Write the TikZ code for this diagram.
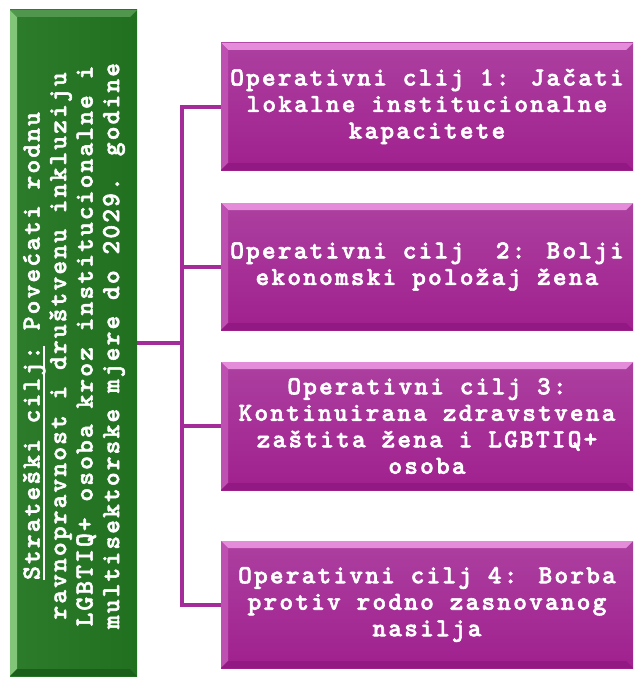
\documentclass[tikz,border=0pt]{standalone}
\usepackage{fontspec}
\newfontfamily\courfont{lmmonolt10-bold.otf}[LetterSpace=8.6, FakeBold=2.2]
\usetikzlibrary{calc}
\definecolor{pface}{RGB}{160,32,142}
\definecolor{pfacetop}{RGB}{172,64,160}
\definecolor{pbevtop}{RGB}{228,140,218}
\definecolor{pbevleft}{RGB}{190,80,178}
\definecolor{pbevbot}{RGB}{146,24,132}
\definecolor{gface}{RGB}{32,112,32}
\definecolor{gfaceleft}{RGB}{44,124,44}
\definecolor{gbevleft}{RGB}{130,196,120}
\definecolor{gbevtop}{RGB}{80,150,76}
\definecolor{gbevbot}{RGB}{26,96,26}
\definecolor{conn}{RGB}{164,44,154}
\newcommand\myul[1]{\setbox0\hbox{#1}\rlap{\rule[-5pt]{\wd0}{1.6pt}}\box0\relax}
\tikzset{
  boxtext/.style={text=white, font=\courfont\fontsize{26}{26.5}\selectfont, align=center, inner sep=0pt},
  purplebox/.style={boxtext, minimum width=412pt, minimum height=127pt,
    top color=pfacetop, bottom color=pface,
    path picture={
      \fill[pbevtop] (path picture bounding box.north west) -- (path picture bounding box.north east)
        -- ([xshift=-7pt,yshift=-7pt]path picture bounding box.north east) -- ([xshift=7pt,yshift=-7pt]path picture bounding box.north west) -- cycle;
      \fill[pbevleft] (path picture bounding box.north west) -- ([xshift=7pt,yshift=-7pt]path picture bounding box.north west)
        -- ([xshift=7pt,yshift=7pt]path picture bounding box.south west) -- (path picture bounding box.south west) -- cycle;
      \fill[pbevbot] (path picture bounding box.south west) -- ([xshift=7pt,yshift=7pt]path picture bounding box.south west)
        -- ([xshift=-7pt,yshift=7pt]path picture bounding box.south east) -- (path picture bounding box.south east) -- cycle;
    }},
  greenbox/.style={boxtext, minimum width=127pt, minimum height=666pt,
    left color=gfaceleft, right color=gface,
    path picture={
      \fill[gbevleft] (path picture bounding box.north west) -- ([xshift=7pt,yshift=-7pt]path picture bounding box.north west)
        -- ([xshift=7pt,yshift=7pt]path picture bounding box.south west) -- (path picture bounding box.south west) -- cycle;
      \fill[gbevtop] (path picture bounding box.north west) -- (path picture bounding box.north east)
        -- ([xshift=-7pt,yshift=-7pt]path picture bounding box.north east) -- ([xshift=7pt,yshift=-7pt]path picture bounding box.north west) -- cycle;
      \fill[gbevbot] (path picture bounding box.south west) -- ([xshift=7pt,yshift=7pt]path picture bounding box.south west)
        -- ([xshift=-7pt,yshift=7pt]path picture bounding box.south east) -- (path picture bounding box.south east) -- cycle;
    }},
  connector/.style={draw=conn, line width=4pt, line join=miter}
}
\begin{document}
\begin{tikzpicture}[x=1pt,y=-1pt]
\useasboundingbox (0,0) rectangle (634,677);
\node[greenbox] (g) at (73.5,343) {};
\node[boxtext, rotate=90] (gt) at (74,346)
  {\myul{Strateški cilj:} Povećati rodnu\\ravnopravnost i društvenu inkluziju\\LGBTIQ+ osoba kroz institucionalne i\\multisektorske mjere do 2029. godine};
\node[purplebox] (p1) at (427,106.5) {Operativni clij 1: Jačati\\lokalne institucionalne\\kapacitete};
\node[purplebox] (p2) at (427,266.5) {Operativni cilj\ \ 2: Bolji\\ekonomski položaj žena};
\node[purplebox, minimum height=128pt] (p3) at (427,426) {Operativni cilj 3:\\Kontinuirana zdravstvena\\zaštita žena i LGBTIQ+\\osoba};
\node[purplebox] (p4) at (427,604.5) {Operativni cilj 4: Borba\\protiv rodno zasnovanog\\nasilja};
\coordinate (j) at (182,343);
\draw[connector] (p1.west) -- (p1.west -| j) -- (p4.west -| j) -- (p4.west);
\draw[connector] (p2.west) -- (p2.west -| j);
\draw[connector] (p3.west) -- (p3.west -| j);
\draw[connector] (g.east) -- (j);
\end{tikzpicture}
\end{document}
